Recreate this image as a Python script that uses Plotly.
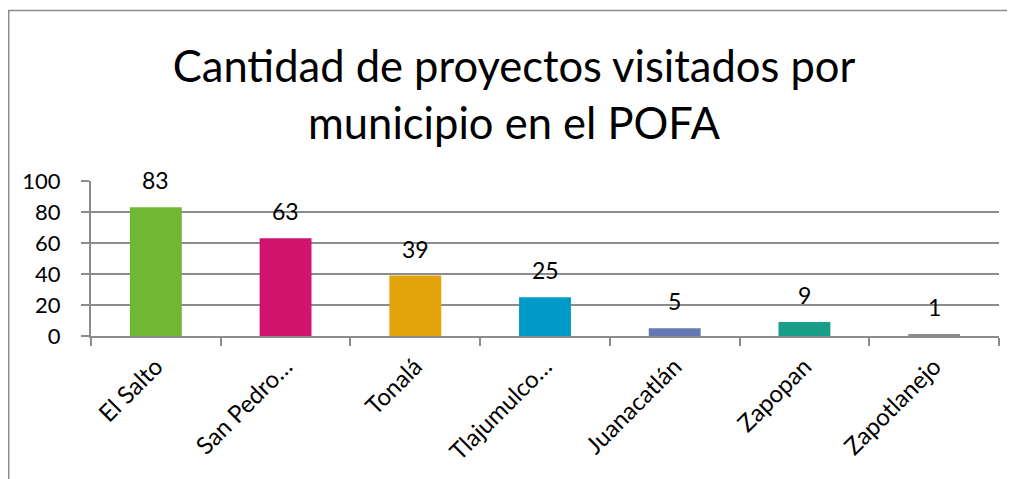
import plotly.graph_objects as go

categories = ["El Salto", "San Pedro…", "Tonalá", "Tlajumulco…", "Juanacatlán", "Zapopan", "Zapotlanejo"]
values = [83, 63, 39, 25, 5, 9, 1]
colors = ["#70B733", "#D0146E", "#E2A40A", "#009BC8", "#6478B2", "#169E89", "#8C8C8C"]
y_ticks = [0, 20, 40, 60, 80, 100]
title_text = "Cantidad de proyectos visitados por<br>municipio en el POFA"

FONT = "Lato"
# page body has an 8px margin; figure coordinates = image coordinates - 8
W, H = 1007, 471
L, R, T, B = 83, 16, 173, 143

fig = go.Figure()
fig.add_trace(go.Bar(
    x=categories, y=values, marker=dict(color=colors, line=dict(width=0)),
    width=0.40, hoverinfo="x+y",
))

for c, v in zip(categories, values):
    fig.add_annotation(x=c, y=v, text=str(v), showarrow=False, yanchor="middle",
                       yshift=27, font=dict(family=FONT, size=23, color="#000000"))

pw = W - L - R
ph = H - T - B
fig.add_shape(type="rect", xref="paper", yref="paper",
              x0=(0.75 - L) / pw, x1=(1030 - L) / pw,
              y0=(H - B - 500) / ph, y1=(H - B - 2.5) / ph,
              line=dict(color="#8C8C8C", width=1.5), fillcolor="rgba(0,0,0,0)", layer="below")

fig.update_layout(
    width=W, height=H, margin=dict(l=L, r=R, t=T, b=B, autoexpand=False),
    paper_bgcolor="white", plot_bgcolor="white", showlegend=False, bargap=0.6,
    title=dict(text=title_text, x=506 / W, xref="container", xanchor="center",
               y=1 - 74 / H, yref="container", yanchor="top",
               font=dict(family=FONT, size=43.5, color="#000000")),
    font=dict(family=FONT, color="#000000"),
)
fig.update_xaxes(showline=True, linecolor="#8C8C8C", linewidth=2, ticks="outside",
                 tickson="boundaries", ticklen=8, tickwidth=2, tickcolor="#8C8C8C",
                 ticklabelstandoff=5,
                 tickangle=-45, tickfont=dict(family=FONT, size=24, color="#000000"),
                 showgrid=False, fixedrange=True)
fig.update_yaxes(range=[0, 100], tickvals=y_ticks, showline=True, linecolor="#8C8C8C",
                 linewidth=2, ticks="outside", ticklen=8, tickwidth=2, tickcolor="#8C8C8C",
                 ticklabelstandoff=16,
                 showgrid=True, gridcolor="#8C8C8C", gridwidth=1.5, zeroline=False,
                 tickfont=dict(family=FONT, size=22, color="#000000"), fixedrange=True)

fig.write_html("out.html")
